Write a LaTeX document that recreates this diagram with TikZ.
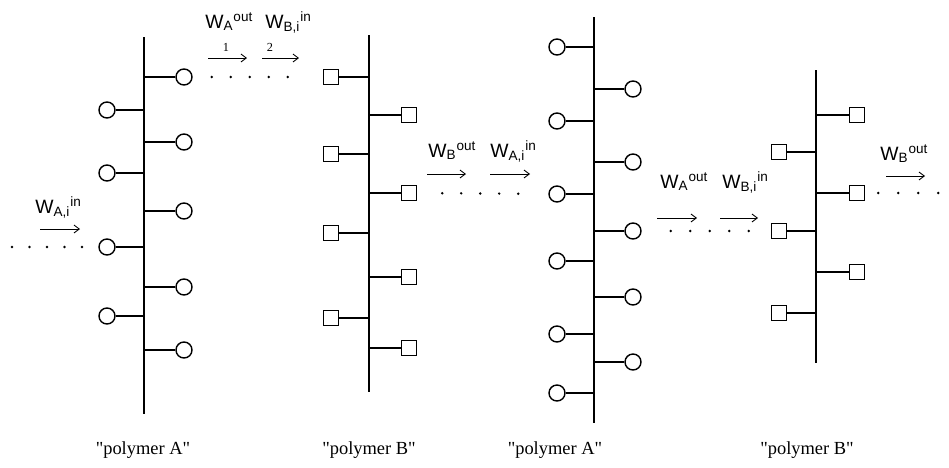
\documentclass[tikz,border=0pt]{standalone}
\usepackage{fontspec}
\setmainfont{Liberation Serif}
\setsansfont{Liberation Sans}
\usetikzlibrary{arrows.meta}

\begin{document}
\begin{tikzpicture}[x=0.02cm, y=-0.02cm,
    spine/.style={line width=0.9pt},
    branch/.style={line width=0.7pt},
    grpA/.style={draw, circle, line width=0.8pt, minimum size=0.32cm, inner sep=0pt},
    grpB/.style={draw, rectangle, line width=0.8pt, minimum size=0.30cm, inner sep=0pt},
    flow/.style={line width=1.5pt, line cap=round, dash pattern=on 0pt off #1},
    arr/.style={-{Straight Barb[length=3pt, width=4.5pt]}, line width=0.5pt},
    wlab/.style={font=\sffamily\fontsize{11}{13}\selectfont, anchor=base west, inner sep=0pt},
    num/.style={font=\fontsize{7}{8}\selectfont, inner sep=0pt},
    plabel/.style={font=\fontsize{10.5}{12}\selectfont}
]
\useasboundingbox (0,0) rectangle (949,467);

\coordinate (topA1) at (144,37);  \coordinate (botA1) at (144,414);
\coordinate (topB1) at (369,35);  \coordinate (botB1) at (369,392);
\coordinate (topA2) at (594,17);  \coordinate (botA2) at (594,423);
\coordinate (topB2) at (816,70);  \coordinate (botB2) at (816,363);
\foreach \p in {A1,B1,A2,B2}
    \draw[spine] (top\p) -- (bot\p);

\foreach \y [count=\i] in {110,173,247,316} {
    \node[grpA] (A1l\i) at (107,\y) {};
    \draw[branch] (A1l\i) -- (A1l\i -| topA1);
}
\foreach \y [count=\i] in {77,142,211,287,350} {
    \node[grpA] (A1r\i) at (184,\y) {};
    \draw[branch] (A1r\i) -- (A1r\i -| topA1);
}
\foreach \y [count=\i] in {77,154,233,318} {
    \node[grpB] (B1l\i) at (331,\y) {};
    \draw[branch] (B1l\i) -- (B1l\i -| topB1);
}
\foreach \y [count=\i] in {115,193,277,348} {
    \node[grpB] (B1r\i) at (409,\y) {};
    \draw[branch] (B1r\i) -- (B1r\i -| topB1);
}
\foreach \y [count=\i] in {47,121,194,261,334,393} {
    \node[grpA] (A2l\i) at (557,\y) {};
    \draw[branch] (A2l\i) -- (A2l\i -| topA2);
}
\foreach \y [count=\i] in {89,162,231,297,362} {
    \node[grpA] (A2r\i) at (633,\y) {};
    \draw[branch] (A2r\i) -- (A2r\i -| topA2);
}
\foreach \y [count=\i] in {152,231,313} {
    \node[grpB] (B2l\i) at (779,\y) {};
    \draw[branch] (B2l\i) -- (B2l\i -| topB2);
}
\foreach \y [count=\i] in {115,193,272} {
    \node[grpB] (B2r\i) at (857,\y) {};
    \draw[branch] (B2r\i) -- (B2r\i -| topB2);
}

\coordinate (inA) at (12,247);
\coordinate (outB) at (939,193);
\draw[flow=0.35cm, shorten >=0.28cm] (inA) -- (A1l3);
\draw[flow=0.38cm, shorten <=0.38cm, shorten >=0.70cm] (A1r1) -- (B1l1);
\draw[flow=0.38cm, shorten <=0.50cm, shorten >=0.60cm] (B1r2) -- (A2l3);
\draw[flow=0.39cm, shorten <=0.58cm, shorten >=0.44cm] (A2r3) -- (B2l2);
\draw[flow=0.40cm, shorten <=0.26cm] (B2r2) -- (outB);

\coordinate (s1) at (40,229);  \coordinate (e1) at (80,229);
\coordinate (s2) at (208,58);  \coordinate (e2) at (247,58);
\coordinate (s3) at (262,58);  \coordinate (e3) at (299,58);
\coordinate (s4) at (427,174); \coordinate (e4) at (466,174);
\coordinate (s5) at (490,174); \coordinate (e5) at (530,174);
\coordinate (s6) at (657,218); \coordinate (e6) at (697,218);
\coordinate (s7) at (720,218); \coordinate (e7) at (758,218);
\coordinate (s8) at (886,176); \coordinate (e8) at (925,176);
\foreach \k in {1,...,8}
    \draw[arr] (s\k) -- (e\k);

\node[wlab] (w1) at (35,213) {W\textsubscript{A,i}\textsuperscript{in}};
\node[wlab] (w2) at (205,28) {W\textsubscript{A}\textsuperscript{out}};
\node[wlab] (w3) at (265,28) {W\textsubscript{B,i}\textsuperscript{in}};
\node[wlab] (w4) at (428,157) {W\textsubscript{B}\textsuperscript{out}};
\node[wlab] (w5) at (490,157) {W\textsubscript{A,i}\textsuperscript{in}};
\node[wlab] (w6) at (660,188) {W\textsubscript{A}\textsuperscript{out}};
\node[wlab] (w7) at (722,188) {W\textsubscript{B,i}\textsuperscript{in}};
\node[wlab] (w8) at (880,160) {W\textsubscript{B}\textsuperscript{out}};
\node[num] (n1) at (226,47) {1};
\node[num] (n2) at (270,47) {2};

\node[plabel] (lA1) at (143,450) {\textquotedbl polymer A\textquotedbl};
\node[plabel] (lB1) at (369,450) {\textquotedbl polymer B\textquotedbl};
\node[plabel] (lA2) at (555,450) {\textquotedbl polymer A\textquotedbl};
\node[plabel] (lB2) at (807,450) {\textquotedbl polymer B\textquotedbl};
\end{tikzpicture}
\end{document}
